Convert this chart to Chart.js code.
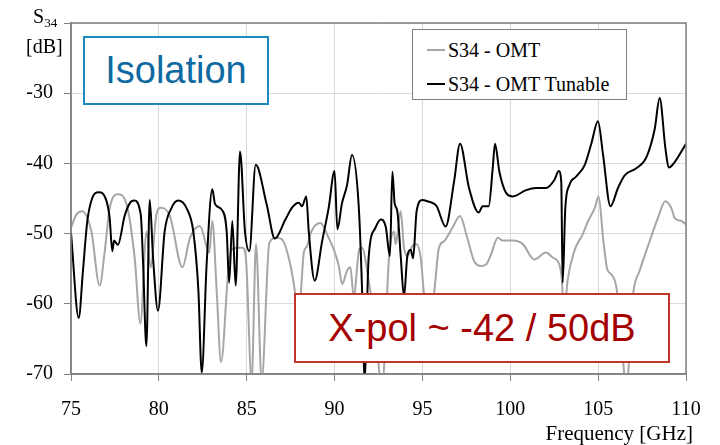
<!DOCTYPE html>
<html>
<head>
<meta charset="utf-8">
<script src="https://cdn.jsdelivr.net/npm/chart.js@4.4.1/dist/chart.umd.min.js"></script>
<style>
  body { margin: 0; background: #fff; }
  #wrap { position: relative; width: 720px; height: 445px; font-family: "Liberation Serif", "Times New Roman", serif; }
  .txt { position: absolute; white-space: nowrap; color: #000; line-height: 20px; }
  .box { position: absolute; display: flex; align-items: center; justify-content: center; background: #fff;
         font-family: "Liberation Sans", Arial, sans-serif; font-size: 38px; box-sizing: border-box; }
  #legend { position: absolute; left: 412px; top: 29px; width: 215px; height: 71px; box-sizing: border-box;
            border: 1px solid #808080; background: #fff; }
  .lrow { position: absolute; left: 14px; font-size: 20px; line-height: 20px; white-space: nowrap; }
  .lrow i { display: inline-block; width: 18px; height: 2px; vertical-align: 6px; margin-right: 3px; }
</style>
</head>
<body>
<div id="wrap">
  <canvas id="chart" width="720" height="445"></canvas>

  <div class="txt" style="left:33px; top:6px; font-size:20px;">S<span style="font-size:13px; position:relative; top:4px;">34</span></div>
  <div class="txt" style="left:26px; top:36px; font-size:20px;">[dB]</div>
  <div class="txt" style="right:27px; top:423px; font-size:21px;">Frequency [GHz]</div>

  <div id="legend">
    <div class="lrow" style="top:10px;"><i style="background:#a6a6a6"></i>S34 - OMT</div>
    <div class="lrow" style="top:44px;"><i style="background:#000"></i>S34 - OMT Tunable</div>
  </div>

  <div class="box" style="left:83px; top:36px; width:186px; height:69px; border:2px solid #1a8ac0; color:#0e6aa0;">Isolation</div>
  <div class="box" style="left:294px; top:293px; width:376px; height:70px; border:2px solid #c0342a; color:#a50000;">X-pol ~ -42 / 50dB</div>
</div>

<script>
// frequency axis [GHz] and S34 [dB]
const xTicks = [75, 80, 85, 90, 95, 100, 105, 110];
const yTicks = [-70, -60, -50, -40, -30, -20];

// S34 - OMT Tunable
const tunFreq = [
  75.0, 75.44, 75.68, 75.93, 76.2, 76.58, 77.0, 77.2, 77.35, 77.45, 77.67, 78.05, 78.34, 78.59,
  78.97, 79.1, 79.29, 79.48, 79.67, 79.95, 80.33, 80.71, 81.1, 81.58, 81.96, 82.25, 82.44, 82.72,
  83.04, 83.2, 83.58, 83.86, 84.0, 84.18, 84.37, 84.62, 84.9, 85.15, 85.51, 86.14, 86.6, 87.2,
  87.58, 87.96, 88.15, 88.39, 88.53, 88.87, 89.29, 89.66, 90.0, 90.16, 90.42, 90.71, 90.99, 91.37,
  91.56, 91.7, 91.94, 92.32, 92.63, 92.91, 93.15, 93.29, 93.42, 93.57, 93.77, 93.95, 94.14, 94.33,
  94.47, 94.67, 95.0, 95.28, 95.62, 95.81, 96.32, 96.8, 97.14, 97.65, 98.2, 98.43, 98.77, 99.0,
  99.13, 99.38, 99.76, 100.14, 100.9, 101.47, 102.04, 102.5, 102.76, 102.9, 102.98, 103.13, 103.36,
  103.74, 104.24, 104.61, 104.99, 105.28, 105.7, 106.13, 106.51, 107.17, 107.75, 108.22, 108.5,
  108.83, 109.02, 109.36, 110.0
];
const tunDb = [
  -49.9, -62.0, -55.3, -48.2, -45.0, -44.1, -45.2, -47.8, -52.5, -51.0, -51.6, -47.5, -45.7, -45.3,
  -47.3, -54.0, -66.0, -45.2, -53.4, -61.0, -49.7, -46.4, -45.3, -46.4, -49.7, -58.1, -69.8, -54.3,
  -43.7, -45.8, -46.6, -49.7, -57.0, -48.2, -57.4, -38.3, -49.7, -52.5, -40.2, -45.9, -50.7, -48.0,
  -46.3, -45.6, -46.1, -44.7, -49.7, -56.7, -51.1, -46.4, -41.1, -49.4, -45.7, -43.1, -38.8, -45.9,
  -57.7, -71.0, -53.4, -49.2, -48.0, -49.0, -53.2, -41.2, -45.7, -46.8, -53.4, -59.0, -53.2, -52.3,
  -53.5, -46.8, -45.2, -45.4, -45.7, -46.1, -49.0, -42.6, -37.2, -43.5, -47.0, -46.1, -46.1, -40.7,
  -37.2, -41.2, -44.2, -44.7, -43.8, -43.5, -43.5, -42.4, -41.1, -42.6, -57.0, -46.4, -43.1,
  -41.9, -40.2, -37.2, -34.0, -38.8, -46.1, -43.5, -41.7, -40.7, -39.1, -35.1, -30.7,
  -37.9, -40.6, -39.8, -37.2
];

// S34 - OMT
const omtFreq = [
  75.0, 75.3, 75.63, 76.16, 76.63, 76.92, 77.2, 77.67, 78.15, 78.62, 78.95, 79.3, 79.53, 79.86,
  80.1, 80.63, 81.34, 81.77, 82.34, 82.87, 83.04, 83.29, 83.54, 83.95, 84.14, 84.43, 84.77, 84.96,
  85.28, 85.53, 85.85, 86.29, 86.7, 87.0, 87.48, 87.76, 87.95, 88.15, 88.25, 88.43, 88.68, 89.19,
  89.66, 89.95, 90.24, 90.43, 90.71, 90.9, 91.09, 91.41, 91.56, 91.94, 92.3, 92.7, 93.1, 93.38,
  93.48, 93.76, 93.95, 94.14, 94.42, 94.67, 94.9, 95.09, 95.35, 95.66, 95.94, 96.23, 96.7, 97.14,
  97.55, 97.94, 98.32, 98.62, 98.9, 99.29, 99.57, 100.14, 100.71, 101.37, 102.03, 102.41, 102.79,
  102.94, 103.05, 103.26, 103.64, 104.12, 104.43, 104.8, 105.03, 105.28, 105.52, 105.75, 106.04,
  106.3, 106.6, 106.99, 107.36, 107.93, 108.4, 108.82, 109.17, 109.36, 109.74, 110.0
];
const omtDb = [
  -49.2, -47.3, -46.8, -49.7, -57.4, -52.5, -46.4, -44.4, -45.7, -53.4, -62.8, -49.7, -54.8, -47.3,
  -46.3, -47.5, -54.8, -50.6, -48.9, -52.7, -48.2, -58.1, -68.3, -55.3, -52.3, -52.0, -52.0, -53.7,
  -71.0, -51.5, -71.0, -51.3, -50.6, -50.8, -54.4, -58.6, -63.0, -55.8, -52.7, -51.8, -49.7, -48.5,
  -50.6, -52.2, -54.6, -57.2, -55.3, -54.8, -59.0, -52.2, -52.0, -56.7, -63.0, -72.0, -53.4, -49.7,
  -51.5, -46.8, -52.0, -53.2, -51.8, -51.5, -53.4, -58.6, -63.0, -58.6, -52.0, -51.1, -49.2, -47.5,
  -50.6, -53.9, -54.6, -54.4, -53.0, -50.6, -51.0, -51.0, -51.5, -53.7, -52.7, -53.4, -54.4,
  -56.7, -62.0, -56.7, -52.5, -50.1, -48.2, -46.4, -44.7, -50.6, -55.1, -55.8, -57.7,
  -64.0, -72.0, -58.6, -55.3, -51.1, -47.8, -45.4, -46.4, -47.8, -48.2, -48.7
];

function toPoints(xs, ys) {
  return xs.map((x, i) => ({x: x, y: ys[i]}));
}

// gray frame round the plot area
const frame = {
  id: 'frame',
  afterDraw(chart) {
    const {ctx, chartArea: a} = chart;
    ctx.save();
    ctx.strokeStyle = '#808080';
    ctx.lineWidth = 1.5;
    ctx.strokeRect(a.left, a.top, a.right - a.left, a.bottom - a.top);
    ctx.restore();
  }
};

const tickFont = {family: '"Liberation Serif", "Times New Roman", serif', size: 20};

new Chart(document.getElementById('chart'), {
  type: 'line',
  data: {
    datasets: [
      {
        label: 'S34 - OMT Tunable',
        data: toPoints(tunFreq, tunDb),
        borderColor: '#000000',
        borderWidth: 2,
        pointRadius: 0,
        cubicInterpolationMode: 'monotone',
        order: 0
      },
      {
        label: 'S34 - OMT',
        data: toPoints(omtFreq, omtDb),
        borderColor: '#a6a6a6',
        borderWidth: 2,
        pointRadius: 0,
        cubicInterpolationMode: 'monotone',
        order: 1
      }
    ]
  },
  options: {
    responsive: false,
    animation: false,
    layout: {padding: {left: 0, right: 34, top: 20, bottom: 0}},
    plugins: {legend: {display: false}, tooltip: {enabled: false}},
    scales: {
      x: {
        type: 'linear',
        min: xTicks[0],
        max: xTicks[xTicks.length - 1],
        afterBuildTicks: s => { s.ticks = xTicks.map(v => ({value: v})); },
        afterFit: s => { s.height = 71; },
        ticks: {color: '#000', font: tickFont, padding: 17, maxRotation: 0},
        grid: {color: '#d9d9d9', tickColor: '#808080', tickLength: 7},
        border: {color: '#808080', width: 1.5}
      },
      y: {
        min: yTicks[0],
        max: yTicks[yTicks.length - 1],
        afterBuildTicks: s => { s.ticks = yTicks.map(v => ({value: v})); },
        afterFit: s => { s.width = 71; },
        ticks: {
          color: '#000',
          font: tickFont,
          padding: 11,
          callback: v => (v === -20 ? '' : String(v))
        },
        grid: {color: '#d9d9d9', tickColor: '#808080', tickLength: 7},
        border: {color: '#808080', width: 1.5}
      }
    }
  },
  plugins: [frame]
});
</script>
</body>
</html>
